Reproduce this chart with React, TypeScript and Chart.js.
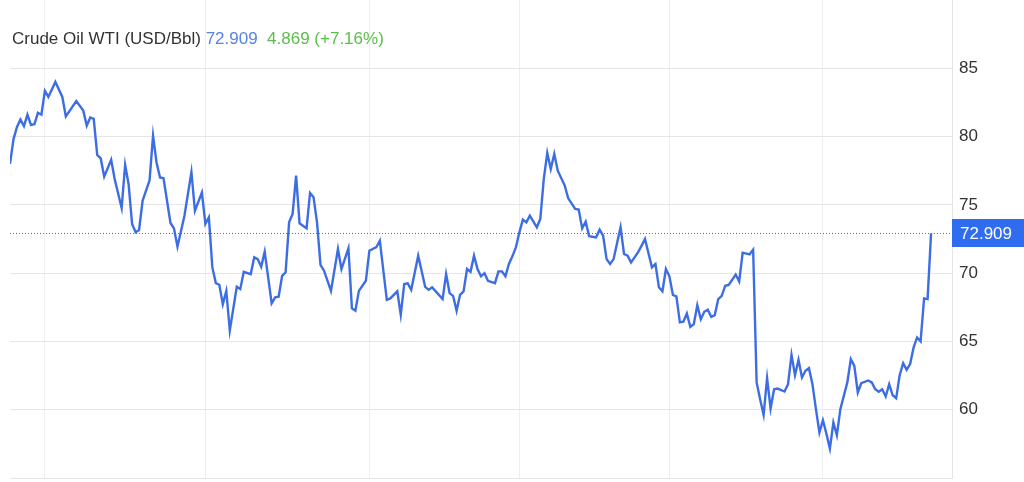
import React, { useEffect, useRef } from "react";
import { Chart, registerables } from "chart.js";

Chart.register(...registerables);

const seriesName = "Crude Oil WTI (USD/Bbl)";
const lastPriceText = "72.909";
const changeText = "4.869 (+7.16%)";

const tradingDays = [
  0, 1, 2, 3, 4, 5, 6, 7, 8, 9, 10, 11, 13, 15, 16, 19, 21, 22, 23, 24, 25, 26, 27, 29, 30, 32, 33, 34, 35, 36, 37, 38, 40,
  41, 42, 43, 44, 46, 47, 48, 50, 52, 53, 55, 56, 57, 58, 59, 60, 61, 62, 63, 65, 66, 67, 69, 70, 71, 72, 73, 75, 76, 77,
  78, 79, 80, 81, 82, 83, 85, 86, 87, 88, 89, 90, 92, 94, 95, 97, 98, 99, 100, 102, 103, 105, 106, 108, 109, 111, 112, 113,
  114, 115, 117, 119, 120, 121, 124, 125, 126, 127, 128, 129, 130, 131, 132, 133, 134, 135, 136, 137, 139, 140, 141, 142,
  143, 144, 145, 146, 147, 148, 149, 151, 152, 153, 154, 155, 156, 157, 159, 160, 162, 163, 164, 165, 166, 168, 169, 170,
  171, 172, 173, 175, 176, 177, 178, 180, 181, 182, 184, 185, 186, 187, 188, 189, 190, 191, 192, 193, 194, 195, 196, 197,
  198, 199, 200, 201, 202, 203, 204, 205, 206, 208, 209, 210, 212, 213, 214, 215, 216, 217, 218, 219, 220, 222, 223, 224,
  225, 226, 227, 228, 229, 230, 231, 232, 233, 234, 235, 236, 237, 238, 240, 241, 242, 243, 244, 246, 247, 248, 249, 250,
  251, 252, 253, 254, 255, 256, 257, 258, 259, 260, 261, 262, 263, 264,
];

const closePrices = [
  78.0, 79.8, 80.7, 81.25, 80.76, 81.6, 80.86, 80.9, 81.74, 81.6, 83.35, 82.9, 84.0, 82.9, 81.47, 82.6, 81.9, 80.8, 81.4,
  81.3, 78.66, 78.4, 77.07, 78.3, 76.9, 74.77, 77.93, 76.5, 73.6, 73.0, 73.16, 75.3, 76.8,
  80.07, 78.1, 77.0, 76.95, 73.67, 73.28, 71.94, 74.2, 77.4, 74.57, 75.9, 73.6, 74.09, 70.42, 69.27, 69.15, 67.73, 68.7,
  65.8, 69.0, 68.83, 70.1, 69.93, 71.16, 71.03, 70.47, 71.57, 67.79, 68.23, 68.27,
  69.8, 70.06, 73.72, 74.33, 77.14, 73.65, 73.28, 75.87, 75.56, 73.72, 70.6, 70.18, 68.7, 71.77, 70.3, 71.82, 67.42, 67.25,
  68.7, 69.44, 71.64, 71.9, 72.38, 68.05, 68.15, 68.67, 66.95, 69.2,
  69.25, 68.78, 71.28, 69.0, 68.78, 68.96, 68.1, 69.93, 68.54, 68.34, 67.24, 68.41, 68.66, 70.3, 70.1, 71.28, 70.3, 69.77,
  70.0, 69.44, 69.27, 70.13, 70.13, 69.77,
  70.67, 71.23, 71.89, 72.99, 73.92, 73.72, 74.21, 73.36, 73.97, 76.9, 78.8, 77.63, 78.73, 77.5, 76.41, 75.48, 74.7, 74.65,
  73.28, 73.77, 72.7, 72.62, 73.18, 72.74,
  71.03, 70.67, 71.03, 73.36, 71.4, 71.28, 70.79, 71.52, 72.0, 72.5, 70.42, 70.67, 68.96, 68.67, 70.3, 69.77, 68.4, 68.3,
  66.39, 66.44, 67.05, 66.07, 66.27, 67.66,
  66.63, 67.17, 67.32, 66.8, 66.93, 68.1, 68.34, 69.08, 69.13, 69.9, 69.4, 71.5, 71.38, 71.72, 62.0, 60.77, 59.62, 62.31,
  60.09, 61.5, 61.55, 61.33, 61.87, 64.02,
  62.53, 63.65, 62.36, 62.85, 63.04, 61.87, 60.04, 58.33, 59.23, 58.25, 57.15, 59.06, 58.13, 60.04, 62.0, 63.7, 63.21,
  61.26, 61.94, 62.14, 62.0, 61.5, 61.31, 61.5,
  60.97, 61.87, 61.06, 60.84, 62.53, 63.41, 62.92, 63.34, 64.56, 65.29, 65.0, 68.15, 68.1, 72.909,
];

const gridDays = [10, 56, 103, 146, 189, 233];
const yTickValues = [60, 65, 70, 75, 80, 85];
const yMin = 55;
const yMax = 90;
const xMax = 270;

const FONT = '"Liberation Sans", Arial, sans-serif';
const LINE_BLUE = "#3d6de4";
const BOX_BLUE = "#2f6cf0";
const TITLE_BLUE = "#5583e6";
const TITLE_GREEN = "#5cbd4c";

export default function App() {
  const canvasRef = useRef<HTMLCanvasElement | null>(null);

  useEffect(() => {
    document.body.style.margin = "0";
    const canvas = canvasRef.current;
    if (!canvas) return;

    const lastValue = closePrices[closePrices.length - 1];

    const overlay = {
      id: "overlay",
      beforeDatasetsDraw(chart: any) {
        const { ctx, chartArea, scales } = chart;
        const y = Math.round(scales.y.getPixelForValue(lastValue)) + 0.5;
        ctx.save();
        ctx.strokeStyle = LINE_BLUE;
        ctx.lineWidth = 1;
        ctx.setLineDash([1, 2]);
        ctx.beginPath();
        ctx.moveTo(chartArea.left, y);
        ctx.lineTo(chartArea.right, y);
        ctx.stroke();
        ctx.restore();
      },
      afterDraw(chart: any) {
        const { ctx, chartArea, scales, width } = chart;
        const y = scales.y.getPixelForValue(lastValue);
        ctx.save();
        ctx.fillStyle = BOX_BLUE;
        ctx.fillRect(chartArea.right, Math.round(y - 14), width - chartArea.right, 28);
        ctx.fillStyle = "#ffffff";
        ctx.font = `17px ${FONT}`;
        ctx.textBaseline = "middle";
        ctx.textAlign = "left";
        ctx.fillText(lastPriceText, chartArea.right + 8, y + 1);

        // title
        ctx.font = `17px ${FONT}`;
        let x = 12;
        const ty = 39;
        ctx.fillStyle = "#333333";
        ctx.fillText(seriesName, x, ty);
        x += ctx.measureText(seriesName + " ").width;
        ctx.fillStyle = TITLE_BLUE;
        ctx.fillText(lastPriceText, x, ty);
        x += ctx.measureText(lastPriceText + "  ").width;
        ctx.fillStyle = TITLE_GREEN;
        ctx.fillText(changeText, x, ty);
        ctx.restore();
      },
    };

    const chart = new Chart(canvas, {
      type: "line",
      data: {
        datasets: [
          {
            label: seriesName,
            data: tradingDays.map((d, i) => ({ x: d, y: closePrices[i] })),
            borderColor: LINE_BLUE,
            borderWidth: 2.4,
            pointRadius: 0,
            tension: 0,
            fill: false,
          },
        ],
      },
      options: {
        animation: false,
        responsive: true,
        maintainAspectRatio: false,
        layout: { padding: { left: 10, right: 0, top: 0, bottom: 4 } },
        plugins: { legend: { display: false }, tooltip: { enabled: false } },
        scales: {
          x: {
            type: "linear",
            min: 0,
            max: xMax,
            afterBuildTicks: (s: any) => {
              s.ticks = gridDays.map((v) => ({ value: v }));
            },
            afterFit: (s: any) => {
              s.height = 0;
              s.paddingLeft = 0;
              s.paddingRight = 0;
            },
            ticks: { display: false },
            grid: { color: "#eeeeee", drawTicks: false },
            border: { display: false },
          },
          y: {
            position: "right",
            min: yMin,
            max: yMax,
            afterBuildTicks: (s: any) => {
              s.ticks = [yMin, ...yTickValues, yMax].map((v) => ({ value: v }));
            },
            afterFit: (s: any) => {
              s.width = 72;
              s.paddingTop = 0;
              s.paddingBottom = 0;
            },
            ticks: {
              color: "#333333",
              font: { size: 17, family: FONT },
              padding: 7,
              callback: (v: any) => (yTickValues.includes(Number(v)) ? String(v) : ""),
            },
            grid: {
              drawTicks: false,
              color: (c: any) => (c.tick && c.tick.value === yMax ? "rgba(0,0,0,0)" : "#e6e6e6"),
            },
            border: { display: true, color: "#e4e4e4" },
          },
        },
      },
      plugins: [overlay],
    });

    return () => chart.destroy();
  }, []);

  return (
    <div style={{ position: "relative", width: 1024, height: 482 }}>
      <canvas ref={canvasRef} />
    </div>
  );
}
